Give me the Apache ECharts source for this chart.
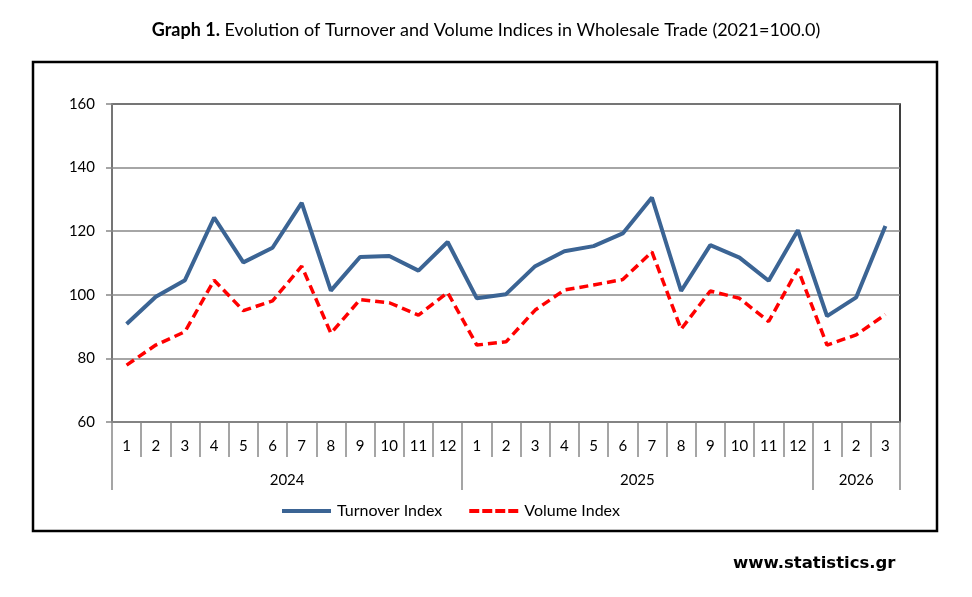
<!DOCTYPE html>
<html>
<head>
<meta charset="utf-8">
<script src="https://cdn.jsdelivr.net/npm/echarts@6.0.0/dist/echarts.min.js"></script>
<style>
  html, body { margin: 0; padding: 0; background: #fff; }
  #chart { width: 972px; height: 597px; }
</style>
</head>
<body>
<div id="chart"></div>
<script>
// month labels along the x axis (Jan 2024 .. Mar 2026)
const months = ["1","2","3","4","5","6","7","8","9","10","11","12",
  "1","2","3","4","5","6","7","8","9","10","11","12",
  "1","2","3"];
const years = ["2024", "2025", "2026"];
const monthsPerYear = [12, 12, 3];
const yTicks = [60, 80, 100, 120, 140, 160];

const turnoverIndex = [90.8, 99.4, 104.6, 124.3, 110.2, 114.8, 128.9, 101.3, 111.9, 112.2, 107.6, 116.6,
  98.9, 100.2, 109.0, 113.7, 115.3, 119.3, 130.6, 101.2, 115.6, 111.7, 104.4, 120.3,
  93.3, 99.2, 121.6];
const volumeIndex = [77.9, 84.2, 88.4, 104.6, 95.0, 98.1, 109.0, 87.9, 98.5, 97.5, 93.6, 100.7,
  84.2, 85.2, 95.2, 101.5, 103.1, 104.8, 113.5, 89.2, 101.2, 98.9, 91.6, 108.1,
  84.2, 87.4, 93.8];

const FONT = "Lato";
const GRID = { left: 112, right: 72, top: 104, bottom: 175 };
const bandW = (972 - GRID.left - GRID.right) / months.length;
const GRAY = "#888888";

// year of each month, plus where each year's label sits
const yearOfMonth = [];
const yearLabelAt = {}; // index -> {text, shift}
const yearStarts = [];
let start = 0;
years.forEach((y, i) => {
  const n = monthsPerYear[i];
  yearStarts.push(start);
  for (let k = 0; k < n; k++) yearOfMonth.push(y);
  if (n % 2 === 0) {
    // even count: label sits on a boundary, shift it half a band right
    yearLabelAt[start + n / 2 - 1] = { text: y, shift: true };
  } else {
    yearLabelAt[start + (n - 1) / 2] = { text: y, shift: false };
  }
  start += n;
});

const chart = echarts.init(document.getElementById("chart"));
const option = {
  animation: false,
  backgroundColor: "#fff",
  textStyle: { fontFamily: FONT },
  title: {
    text: "{b|Graph 1.} {n|Evolution of Turnover and Volume Indices in Wholesale Trade (2021=100.0)}",
    left: "center",
    top: 16,
    textStyle: {
      fontWeight: "normal",
      rich: {
        b: { fontFamily: FONT, fontWeight: "bold", fontSize: 18, color: "#000" },
        n: { fontFamily: FONT, fontWeight: "normal", fontSize: 18, color: "#000" },
      },
    },
  },
  graphic: [
    {
      type: "rect",
      shape: { x: 33, y: 62, width: 904, height: 469 },
      style: { fill: "none", stroke: "#000", lineWidth: 2.5 },
      z: 0,
    },
    {
      type: "text",
      left: 733,
      top: 555,
      style: {
        text: "www.statistics.gr",
        fontFamily: "DejaVu Sans",
        fontWeight: "bold",
        fontSize: 16.5,
        fill: "#000",
      },
    },
  ],
  legend: {
    top: 498,
    left: 277,
    itemWidth: 49,
    itemHeight: 4,
    itemGap: 27,
    textStyle: { fontFamily: FONT, fontSize: 16, color: "#000", padding: [0, 0, 0, 1] },
    data: [
      { name: "Turnover Index", icon: "path://M0,0h49v4h-49z", itemStyle: { color: "#3B6494" } },
      {
        name: "Volume Index",
        icon: "path://M0,0h10v4h-10z M13,0h10v4h-10z M26,0h10v4h-10z M39,0h10v4h-10z",
        itemStyle: { color: "#FF0000" },
      },
    ],
  },
  grid: {
    left: GRID.left,
    right: GRID.right,
    top: GRID.top,
    bottom: GRID.bottom,
    show: true,
    borderColor: "#000",
    borderWidth: 1.5,
  },
  xAxis: [
    {
      type: "category",
      data: months,
      boundaryGap: true,
      axisLine: { show: true, lineStyle: { color: GRAY, width: 1.5 } },
      axisTick: { show: true, interval: 0, length: 35, lineStyle: { color: GRAY, width: 1.5 } },
      axisLabel: { interval: 0, margin: 17, fontFamily: FONT, fontSize: 15, color: "#000" },
    },
    {
      type: "category",
      data: yearOfMonth,
      position: "bottom",
      boundaryGap: true,
      axisLine: { show: false },
      axisTick: {
        show: true,
        interval: (index) => yearStarts.indexOf(index) >= 0,
        length: 68,
        lineStyle: { color: GRAY, width: 1.5 },
      },
      axisLabel: {
        interval: (index) => yearLabelAt[index] !== undefined,
        margin: 51,
        fontFamily: FONT,
        fontSize: 15,
        color: "#000",
        formatter: (value, index) => {
          const item = yearLabelAt[index];
          if (!item) return "";
          return item.shift ? "{s|" + item.text + "}" : "{c|" + item.text + "}";
        },
        rich: {
          s: { fontFamily: FONT, fontSize: 15, color: "#000", padding: [0, 0, 0, bandW] },
          c: { fontFamily: FONT, fontSize: 15, color: "#000" },
        },
      },
    },
  ],
  yAxis: {
    type: "value",
    min: yTicks[0],
    max: yTicks[yTicks.length - 1],
    interval: yTicks[1] - yTicks[0],
    axisLine: { show: true, lineStyle: { color: GRAY, width: 1.5 } },
    axisTick: { show: true, length: 6, lineStyle: { color: GRAY, width: 1.5 } },
    axisLabel: { margin: 17, fontFamily: FONT, fontSize: 15, color: "#000" },
    splitLine: { show: true, lineStyle: { color: GRAY, width: 1.5 } },
  },
  series: [
    {
      name: "Turnover Index",
      type: "line",
      data: turnoverIndex,
      symbol: "none",
      color: "#3B6494",
      lineStyle: { color: "#3B6494", width: 4 },
      z: 3,
    },
    {
      name: "Volume Index",
      type: "line",
      data: volumeIndex,
      symbol: "none",
      color: "#FF0000",
      lineStyle: { color: "#FF0000", width: 3.5, type: [9, 5] },
      z: 4,
    },
  ],
};
chart.setOption(option);
</script>
</body>
</html>
